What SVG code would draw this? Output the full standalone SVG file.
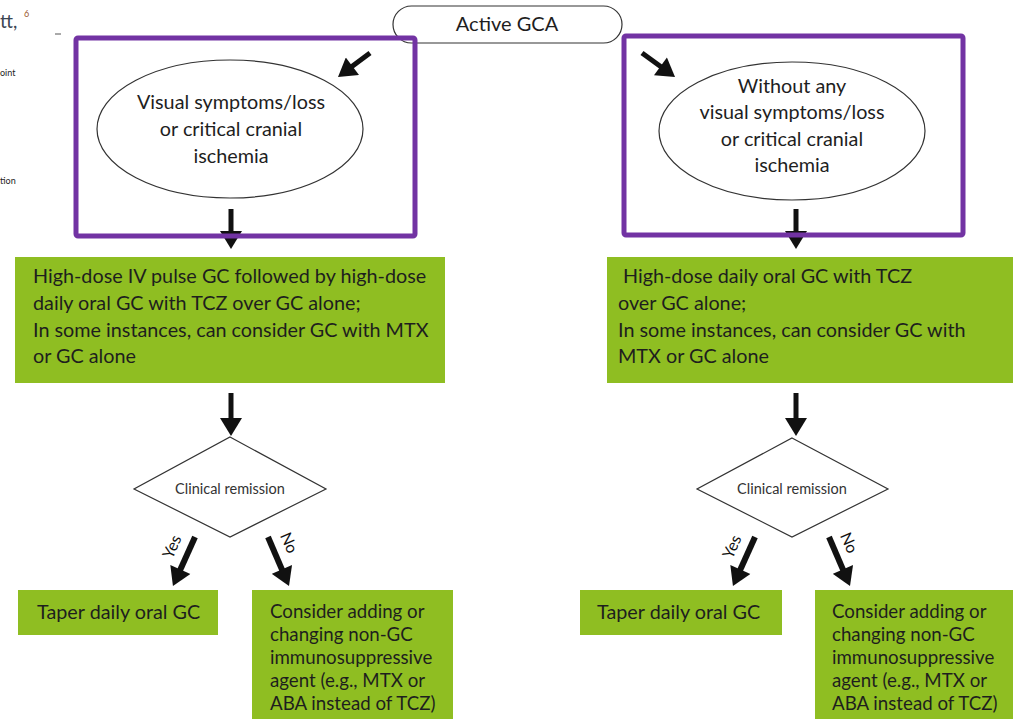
<svg xmlns="http://www.w3.org/2000/svg" width="1013" height="719" viewBox="0 0 1013 719">
<defs>
<style>
.t{font-family:Lato,"Liberation Sans",sans-serif;fill:#1e1e1e;}
.big{font-size:19.8px;}
.mid{font-size:18.7px;}
.small{font-size:14.5px;fill:#333;}
.lbl{font-size:16px;fill:#111;}
.green{fill:#8fbe22;}
.purple{fill:none;stroke:#7233a3;stroke-width:5;}
.outline{fill:#fff;stroke:#333;stroke-width:1.2;}
.arr{stroke:#111;stroke-width:5;fill:none;marker-end:url(#head);}
.arr6{stroke:#111;stroke-width:6;fill:none;marker-end:url(#head);}
</style>
<marker id="head" markerUnits="userSpaceOnUse" markerWidth="20" markerHeight="22" viewBox="0 0 18 22" refX="4" refY="11" orient="auto">
<path d="M0,0 L18,11 L0,22 z" fill="#111"/>
</marker>
</defs>
<rect width="1013" height="719" fill="#fff"/>

<g id="fragments">
<text class="t" x="0" y="28" style="font-size:19px;fill:#3b4653">tt,</text>
<text class="t" x="24" y="17" style="font-size:9px;fill:#9a5a30">6</text>
<text class="t" x="0" y="76" style="font-size:9px">oint</text>
<text class="t" x="0" y="184" style="font-size:9px">tion</text>
<line x1="55" y1="34" x2="61" y2="34" stroke="#555" stroke-width="1"/>
</g>

<g id="connectors">
<line class="arr" x1="370" y1="53" x2="349.2" y2="68.6"/>
<line class="arr" x1="642" y1="53" x2="663.7" y2="68.8"/>
<line class="arr" x1="231" y1="209" x2="231" y2="235"/>
<line class="arr" x1="796" y1="209" x2="796" y2="235"/>
<line class="arr" x1="231" y1="393" x2="231" y2="422"/>
<line class="arr" x1="796" y1="393" x2="796" y2="422"/>
<line class="arr6" x1="195" y1="537" x2="178.7" y2="573.2"/>
<line class="arr6" x1="268" y1="537" x2="283.5" y2="573.1"/>
<line class="arr6" x1="755" y1="537" x2="738.7" y2="573.2"/>
<line class="arr6" x1="829" y1="537" x2="844.5" y2="573.1"/>
<text class="t lbl" transform="translate(177,549) rotate(-66)" text-anchor="middle">Yes</text>
<text class="t lbl" transform="translate(284,545) rotate(66)" text-anchor="middle">No</text>
<text class="t lbl" transform="translate(737,549) rotate(-66)" text-anchor="middle">Yes</text>
<text class="t lbl" transform="translate(844,545) rotate(66)" text-anchor="middle">No</text>
</g>

<g id="active-gca">
<rect class="outline" x="393" y="6" width="229" height="37" rx="18.5"/>
<text class="t" x="507" y="31" style="font-size:20px" text-anchor="middle">Active GCA</text>
</g>

<g id="left-frame">
<rect class="purple" x="76" y="38" width="339" height="198" rx="2"/>
</g>
<g id="right-frame">
<rect class="purple" x="624" y="36" width="339" height="199" rx="2"/>
</g>

<g id="left-condition">
<ellipse class="outline" cx="230" cy="129" rx="133" ry="69"/>
<text class="t big" text-anchor="middle"><tspan x="231" y="109">Visual symptoms/loss</tspan><tspan x="231" y="136">or critical cranial</tspan><tspan x="231" y="163">ischemia</tspan></text>
</g>

<g id="right-condition">
<ellipse class="outline" cx="792" cy="131" rx="133" ry="69"/>
<text class="t big" text-anchor="middle"><tspan x="792" y="93">Without any</tspan><tspan x="792" y="119">visual symptoms/loss</tspan><tspan x="792" y="146">or critical cranial</tspan><tspan x="792" y="172">ischemia</tspan></text>
</g>

<g id="left-treatment">
<rect class="green" x="15" y="257" width="430" height="126"/>
<text class="t big"><tspan x="33" y="283">High-dose IV pulse GC followed by high-dose</tspan><tspan x="33" y="310">daily oral GC with TCZ over GC alone;</tspan><tspan x="33" y="337">In some instances, can consider GC with MTX</tspan><tspan x="33" y="363">or GC alone</tspan></text>
</g>

<g id="right-treatment">
<rect class="green" x="607" y="257" width="406" height="126"/>
<text class="t big"><tspan x="623" y="283">High-dose daily oral GC with TCZ</tspan><tspan x="618" y="310">over GC alone;</tspan><tspan x="618" y="337">In some instances, can consider GC with</tspan><tspan x="618" y="363">MTX or GC alone</tspan></text>
</g>

<g id="left-remission">
<polygon class="outline" points="230,437 326,489 230,537 134,489"/>
<text class="t small" x="230" y="494" text-anchor="middle">Clinical remission</text>
</g>
<g id="right-remission">
<polygon class="outline" points="792,438 888,489 792,537 697,489"/>
<text class="t small" x="792" y="494" text-anchor="middle">Clinical remission</text>
</g>

<g id="left-taper">
<rect class="green" x="18" y="590" width="200" height="45"/>
<text class="t big" x="37" y="619">Taper daily oral GC</text>
</g>
<g id="left-consider">
<rect class="green" x="252" y="590" width="201" height="129"/>
<text class="t mid"><tspan x="270" y="618">Consider adding or</tspan><tspan x="270" y="641">changing non-GC</tspan><tspan x="270" y="664">immunosuppressive</tspan><tspan x="270" y="687">agent (e.g., MTX or</tspan><tspan x="270" y="710">ABA instead of TCZ)</tspan></text>
</g>

<g id="right-taper">
<rect class="green" x="580" y="590" width="202" height="45"/>
<text class="t big" x="597" y="619">Taper daily oral GC</text>
</g>
<g id="right-consider">
<rect class="green" x="815" y="590" width="198" height="129"/>
<text class="t mid"><tspan x="832" y="618">Consider adding or</tspan><tspan x="832" y="641">changing non-GC</tspan><tspan x="832" y="664">immunosuppressive</tspan><tspan x="832" y="687">agent (e.g., MTX or</tspan><tspan x="832" y="710">ABA instead of TCZ)</tspan></text>
</g>
</svg>
